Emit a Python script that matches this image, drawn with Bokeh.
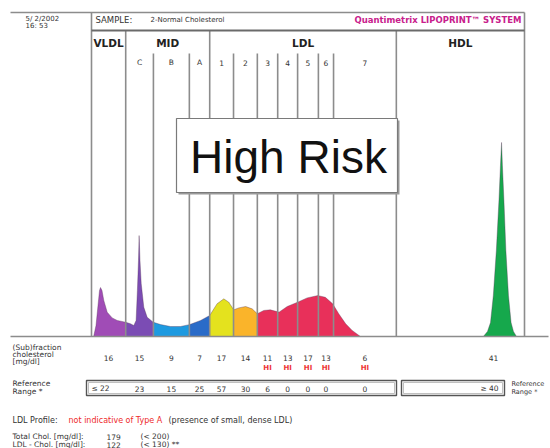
import numpy as np
from bokeh.plotting import figure
from bokeh.models import Range1d
from bokeh.core.properties import value
from bokeh.embed import file_html
from bokeh.resources import INLINE

# ---------------- data ----------------
fractions = ["VLDL", "C", "B", "A", "1", "2", "3", "4", "5", "6", "7", "HDL"]
boundaries = [0.0, 7.9, 14.3, 22.6, 27.3, 32.8, 38.3, 43.0, 47.6, 52.4, 55.9, 70.4, 100.0]
groups = ["VLDL", "MID", "LDL", "HDL"]
group_edges = [0.0, 7.9, 27.3, 70.4, 100.0]

# densitometric profile (relative migration position, relative intensity)
position = [0.5, 1.04, 1.5, 1.85, 2.08, 2.42, 2.84, 3.63, 4.78, 5.94, 7.85, 9.0, 9.77,
            10.3, 10.6, 10.85, 11.0, 11.2, 11.48, 12.08, 12.86, 14.25, 15.94, 18.24,
            20.55, 22.7, 25.2, 27.3, 29.0, 30.55, 31.7, 32.85, 34.0, 35.6, 37.1, 38.3,
            39.8, 41.3, 43.3, 45.2, 47.6, 49.8, 52.3, 54.0, 55.7, 57.1, 58.7, 60.2, 62.1,
            90.5, 91.45, 92.15, 92.8, 93.5, 94.1, 94.45, 94.7, 94.9, 95.25, 95.7, 96.3,
            96.9, 97.45, 98.15]
intensity = [0.0, 5.6, 15.8, 23.5, 25.0, 23.5, 18.4, 12.4, 9.5, 8.2, 7.3, 6.5, 5.6,
             8.2, 23.5, 38.8, 51.5, 38.8, 27.0, 14.9, 9.8, 7.3, 6.1, 5.1,
             5.1, 6.1, 8.2, 10.7, 16.7, 19.2, 17.5, 13.6, 14.6, 15.3, 14.1, 11.6,
             13.3, 13.6, 12.4, 15.3, 17.5, 19.7, 20.9, 20.0, 16.7, 11.6, 6.5, 3.1, 0.0,
             0.0, 2.6, 7.1, 20.9, 43.9, 69.4, 87.2, 99.0, 87.2, 69.4, 43.9, 20.9,
             7.1, 2.6, 0.0]

subfraction_chol = [16, 15, 9, 7, 17, 14, 11, 13, 17, 13, 6, 41]
flag_high = [False, False, False, False, False, False, True, True, True, True, True, False]
reference_range = ["≤ 22", "23", "15", "25", "57", "30", "6", "0", "0", "0", "0", "≥ 40"]

total_chol = "179"
total_chol_ref = "(< 200)"
ldl_chol = "122"
ldl_chol_ref = "(< 130) **"

# ---------------- styles ----------------
fill_colors = ["#a04cb6", "#7b4cb4", "#1e9ae0", "#2a6bc8", "#e4e21e", "#fab42a",
               "#e8305a", "#e8305a", "#e8305a", "#e8305a", "#e8305a", "#16a84c"]
FONT = value("DejaVu Sans")
LINE = "#8c8c8c"

# reference-pixel to data mapping helpers (layout only)
X0, SX = 91.0, 4.33
Y0, SY = 336.0, 1.96


def X(px):
    return (px - X0) / SX


def Y(py):
    return (Y0 - py) / SY


W, H = 550, 448
p = figure(width=W, height=H, output_backend="svg", toolbar_location=None,
           x_range=Range1d(X(0), X(W)), y_range=Range1d(Y(H), Y(0)),
           min_border=0, min_border_left=0, min_border_right=0,
           min_border_top=0, min_border_bottom=0)
p.axis.visible = False
p.grid.visible = False
p.outline_line_color = None
p.background_fill_color = "white"
p.border_fill_color = "white"

# ---------------- profile fills ----------------
for i in range(len(fractions)):
    lo, hi = boundaries[i], boundaries[i + 1]
    xs = [lo] + [q for q in position if lo < q < hi] + [hi]
    ys = np.interp(xs, position, intensity)
    p.varea(x=xs, y1=0, y2=ys, fill_color=fill_colors[i])

p.line(position, intensity, line_color="#553355", line_alpha=0.45, line_width=0.8)

# ---------------- frame lines ----------------
major = set(group_edges)
tops = []
for b in boundaries:
    if b in (0.0, 100.0):
        tops.append(Y(12))
    elif b in major:
        tops.append(Y(30))
    else:
        tops.append(Y(53))
p.segment(x0=boundaries, y0=[0] * len(boundaries), x1=boundaries, y1=tops,
          line_color=LINE, line_width=1.6)
# header borders
p.segment(x0=[X(10), X(91)], y0=[Y(12), Y(30)], x1=[X(524), X(524)], y1=[Y(12), Y(30)],
          line_color=["#8c8c8c", "#6a6a6a"], line_width=[1.4, 2.2])
# baseline
p.segment(x0=[X(10)], y0=[0], x1=[X(548)], y1=[0], line_color=LINE, line_width=1.6)

# ---------------- header texts ----------------
p.text(x=[X(25), X(25)], y=[Y(18), Y(25)], text=["5/ 2/2002", "16: 53"],
       text_font=FONT, text_font_size="7px", text_color="#333333",
       text_baseline="middle", text_align="left")
p.text(x=[X(95)], y=[Y(19)], text=["SAMPLE:"], text_font=FONT, text_font_size="8.5px",
       text_color="#333333", text_baseline="middle")
p.text(x=[X(150)], y=[Y(19)], text=["2-Normal Cholesterol"], text_font=FONT,
       text_font_size="7px", text_color="#333333", text_baseline="middle")
p.text(x=[X(521)], y=[Y(19)], text=["Quantimetrix LIPOPRINT\u2122 SYSTEM"], text_font=FONT,
       text_font_size="8.5px", text_font_style="bold", text_color="#c8208c",
       text_baseline="middle", text_align="right")

group_centers = [(group_edges[k] + group_edges[k + 1]) / 2 for k in range(len(groups))]
p.text(x=group_centers, y=[Y(42)] * len(groups), text=groups, text_font=FONT,
       text_font_size="10.5px", text_font_style="bold", text_color="#222222",
       text_baseline="middle", text_align="center")

centers = [(boundaries[k] + boundaries[k + 1]) / 2 for k in range(len(fractions))]
p.text(x=centers[1:11], y=[Y(62)] * 10, text=fractions[1:11], text_font=FONT,
       text_font_size="7.5px", text_color="#333333", text_baseline="middle",
       text_align="center")

# ---------------- High Risk box ----------------
p.quad(left=[X(178)], right=[X(399)], top=[Y(120)], bottom=[Y(194)],
       fill_color="#9a9a9a", line_color=None)
p.quad(left=[X(176)], right=[X(397)], top=[Y(118)], bottom=[Y(192)],
       fill_color="white", line_color="#7a7a7a", line_width=1.2)
p.text(x=[X(288)], y=[Y(156)], text=["High Risk"], text_font=value("Liberation Sans"),
       text_font_size="46px", text_color="#111111", text_baseline="middle",
       text_align="center")

# ---------------- table ----------------
value_x = centers[:11] + [X(493)]
p.text(x=[X(12)] * 3, y=[Y(347), Y(354), Y(361)],
       text=["(Sub)fraction", "cholesterol", "[mg/dl]"], text_font=FONT,
       text_font_size="7.5px", text_color="#333333", text_baseline="middle")
p.text(x=value_x, y=[Y(357)] * len(value_x), text=[str(v) for v in subfraction_chol],
       text_font=FONT, text_font_size="7.5px", text_color="#333333",
       text_baseline="middle", text_align="center")
hi_x = [value_x[k] for k in range(len(flag_high)) if flag_high[k]]
p.text(x=hi_x, y=[Y(367)] * len(hi_x), text=["HI"] * len(hi_x), text_font=FONT,
       text_font_size="7px", text_font_style="bold", text_color="#ee3333",
       text_baseline="middle", text_align="center")

# reference range boxes
p.quad(left=[X(86), X(401)], right=[X(396), X(504)], top=[Y(380), Y(380)],
       bottom=[Y(395), Y(395)], fill_color="white", line_color="#555555", line_width=1.4)
p.quad(left=[X(88), X(403)], right=[X(394), X(502)], top=[Y(382), Y(382)],
       bottom=[Y(393), Y(393)], fill_color=None, line_color="#b0b0b0", line_width=0.8)
ref_x = [X(100)] + centers[1:11] + [X(489)]
p.text(x=ref_x, y=[Y(388)] * len(ref_x), text=reference_range, text_font=FONT,
       text_font_size="7.5px", text_color="#333333", text_baseline="middle",
       text_align="center")
p.text(x=[X(12), X(12)], y=[Y(383), Y(391)],
       text=["Reference", "Range *"], text_font=FONT,
       text_font_size="7.5px", text_color="#333333", text_baseline="middle")
p.text(x=[X(511), X(511)], y=[Y(383), Y(391)],
       text=["Reference", "Range *"], text_font=FONT,
       text_font_size="6.5px", text_color="#333333", text_baseline="middle")

# ---------------- profile verdict & totals ----------------
p.text(x=[X(12)], y=[Y(420)], text=["LDL Profile:"], text_font=FONT, text_font_size="8px",
       text_color="#333333", text_baseline="middle")
p.text(x=[X(68)], y=[Y(420)], text=["not indicative of Type A"], text_font=FONT,
       text_font_size="8px", text_color="#ee2a2a", text_baseline="middle")
p.text(x=[X(168)], y=[Y(420)], text=["(presence of small, dense LDL)"], text_font=FONT,
       text_font_size="8px", text_color="#333333", text_baseline="middle")

p.text(x=[X(12), X(106), X(140)], y=[Y(436)] * 3,
       text=["Total Chol. [mg/dl]:", total_chol, total_chol_ref], text_font=FONT,
       text_font_size="7.5px", text_color="#333333", text_baseline="middle")
p.text(x=[X(12), X(106), X(140)], y=[Y(444)] * 3,
       text=["LDL - Chol. [mg/dl]:", ldl_chol, ldl_chol_ref], text_font=FONT,
       text_font_size="7.5px", text_color="#333333", text_baseline="middle")

with open("out.html", "w") as f:
    f.write(file_html(p, INLINE))
